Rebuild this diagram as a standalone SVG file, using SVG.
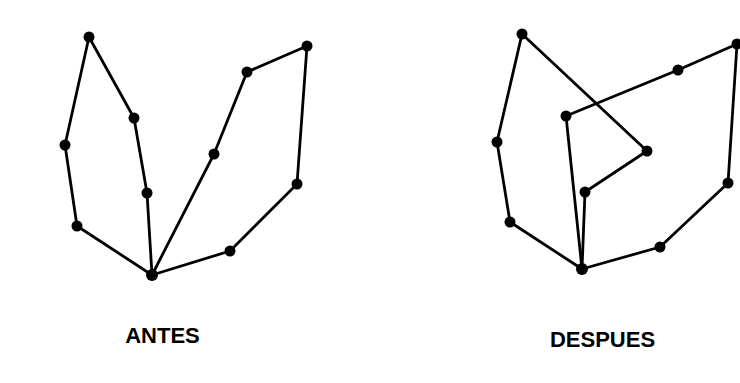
<svg xmlns="http://www.w3.org/2000/svg" width="740" height="383" viewBox="0 0 740 383">
<style>
.e{fill:none;stroke:#000;stroke-width:2.8;stroke-linejoin:round;stroke-linecap:round}
.n{fill:#000}
.t{font-family:"Liberation Sans",Arial,sans-serif;font-size:22px;font-weight:bold;fill:#000;text-anchor:middle}
</style>
<rect width="740" height="383" fill="#fff"/>
<g id="connectors">
<polyline class="e" points="89,37 65,145 77,226 152,275 147,193 134,118 89,37"/>
<polyline class="e" points="152,275 214,154 247,72 307,46 297,184 230,251 152,275"/>
<polyline class="e" points="522,34 497,142 510,222 582,269 585,192 647,151 522,34"/>
<polyline class="e" points="582,269 566,116 678,70 737,44 728,183 660,247 582,269"/>
</g>
<g id="antes-nodes">
<g id="a1"><circle class="n" cx="89" cy="37" r="5.5"/></g>
<g id="a2"><circle class="n" cx="65" cy="145" r="5.5"/></g>
<g id="a3"><circle class="n" cx="77" cy="226" r="5.5"/></g>
<g id="a4"><circle class="n" cx="152" cy="275" r="6"/></g>
<g id="a5"><circle class="n" cx="147" cy="193" r="5.5"/></g>
<g id="a6"><circle class="n" cx="134" cy="118" r="5.5"/></g>
<g id="a7"><circle class="n" cx="214" cy="154" r="5.5"/></g>
<g id="a8"><circle class="n" cx="247" cy="72" r="5.5"/></g>
<g id="a9"><circle class="n" cx="307" cy="46" r="5.5"/></g>
<g id="a10"><circle class="n" cx="297" cy="184" r="5.5"/></g>
<g id="a11"><circle class="n" cx="230" cy="251" r="5.5"/></g>
</g>
<g id="despues-nodes">
<g id="d1"><circle class="n" cx="522" cy="34" r="5.5"/></g>
<g id="d2"><circle class="n" cx="497" cy="142" r="5.5"/></g>
<g id="d3"><circle class="n" cx="510" cy="222" r="5.5"/></g>
<g id="d4"><circle class="n" cx="582" cy="269" r="6"/></g>
<g id="d5"><circle class="n" cx="585" cy="192" r="5.5"/></g>
<g id="d6"><circle class="n" cx="647" cy="151" r="5.5"/></g>
<g id="d7"><circle class="n" cx="566" cy="116" r="5.5"/></g>
<g id="d8"><circle class="n" cx="678" cy="70" r="5.5"/></g>
<g id="d9"><circle class="n" cx="737" cy="44" r="5.5"/></g>
<g id="d10"><circle class="n" cx="728" cy="183" r="5.5"/></g>
<g id="d11"><circle class="n" cx="660" cy="247" r="5.5"/></g>
</g>
<g id="labels">
<text class="t" x="162.5" y="343">ANTES</text>
<text class="t" x="602.5" y="347">DESPUES</text>
</g>
</svg>
